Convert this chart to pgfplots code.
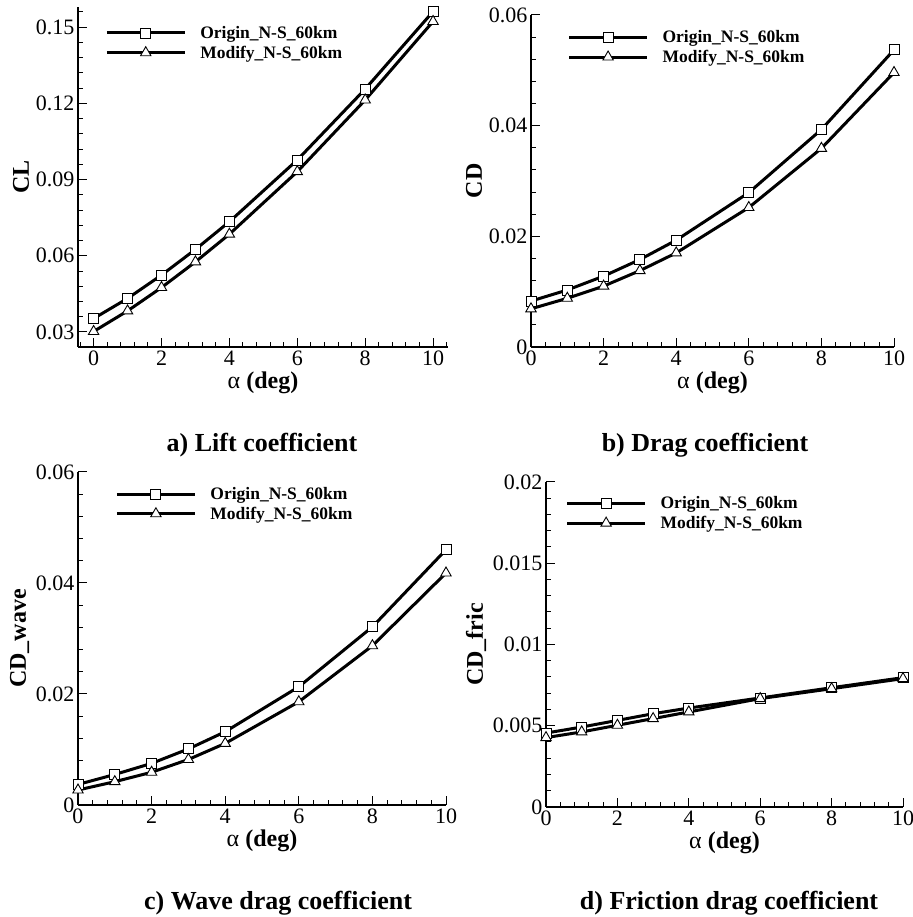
\documentclass[border=0pt]{standalone}
\usepackage{fontspec}
\setmainfont{Liberation Serif}
\usepackage{pgfplots}
\pgfplotsset{compat=1.18}

\pgfplotsset{
  panel/.style={
    scale only axis,
    axis lines=left,
    axis line style={-, line width=1.3pt},
    tick align=inside,
    major tick length=9pt,
    minor tick length=5pt,
    tick style={black, line width=1pt},
    clip=false,
    scaled y ticks=false,
    xtick={0,2,...,10},
    /pgf/number format/assume math mode=true,
    ticklabel style={font=\fontsize{22}{25}\selectfont},
    xlabel={{\mdseries α} (deg)},
    label style={font=\bfseries\fontsize{24}{28}\selectfont},
    legend cell align=left,
    legend style={draw=none, fill=none, anchor=north west,
      font=\bfseries\fontsize{17.5}{20}\selectfont, row sep=2pt},
    legend image code/.code={
      \draw[mark=none, line width=3pt] (0pt,0pt) -- (78pt,0pt);
      \draw plot coordinates {(39pt,0pt)};
      \path (90pt,0pt);},
  },
  orig/.style={black, line width=3pt, mark=square*,
    mark options={fill=white, line width=0.9pt, mark size=5pt}},
  modi/.style={black, line width=3pt, mark=triangle*,
    mark options={fill=white, line width=0.9pt, mark size=6pt}},
}

\begin{document}
\begin{tikzpicture}
\path[use as bounding box] (0pt,0pt) rectangle (912pt,917pt);

% a) lift
\begin{axis}[panel, at={(78pt,570pt)}, anchor=south west, width=370pt, height=340pt,
  xmin=-0.46, xmax=10.44, ymin=0.0241, ymax=0.1579,
  minor xtick={-0.4,0,...,10.4},
  ytick={0.03,0.06,0.09,0.12,0.15},
  yticklabels={0.03,0.06,0.09,0.12,0.15},
  minor ytick={0.024,0.03,...,0.157},
  ylabel={CL},
  legend style={at={(axis description cs:0.065,0.956)}}]
\addplot[orig] coordinates {(0,0.0353)(1,0.0432)(2,0.0524)(3,0.0625)(4,0.0734)(6,0.0977)(8,0.1256)(10,0.1561)};
\addplot[modi] coordinates {(0,0.0302)(1,0.0383)(2,0.0475)(3,0.0576)(4,0.0685)(6,0.0931)(8,0.1213)(10,0.1522)};
\legend{Origin\_N-S\_60km, Modify\_N-S\_60km}
\end{axis}

% b) drag
\begin{axis}[panel, at={(531pt,570pt)}, anchor=south west, width=363pt, height=332pt,
  xmin=0, xmax=10, ymin=0, ymax=0.06,
  minor x tick num=4, minor y tick num=4,
  ytick={0,0.02,0.04,0.06},
  yticklabels={0,0.02,0.04,0.06},
  ylabel={CD},
  legend style={at={(axis description cs:0.092,0.966)}}]
\addplot[orig] coordinates {(0,0.0083)(1,0.0103)(2,0.0128)(3,0.0158)(4,0.0193)(6,0.0279)(8,0.0393)(10,0.0537)};
\addplot[modi] coordinates {(0,0.0069)(1,0.0088)(2,0.0110)(3,0.0138)(4,0.0170)(6,0.0252)(8,0.0359)(10,0.0496)};
\legend{Origin\_N-S\_60km, Modify\_N-S\_60km}
\end{axis}

% c) wave drag
\begin{axis}[panel, at={(78pt,112pt)}, anchor=south west, width=368pt, height=333pt,
  xmin=0, xmax=10, ymin=0, ymax=0.06,
  minor x tick num=4, minor y tick num=4,
  ytick={0,0.02,0.04,0.06},
  yticklabels={0,0.02,0.04,0.06},
  ylabel={CD\_wave},
  legend style={at={(axis description cs:0.093,0.967)}}]
\addplot[orig] coordinates {(0,0.0037)(1,0.0055)(2,0.0075)(3,0.0101)(4,0.0132)(6,0.0213)(8,0.0321)(10,0.0460)};
\addplot[modi] coordinates {(0,0.0027)(1,0.0042)(2,0.0059)(3,0.0082)(4,0.0111)(6,0.0186)(8,0.0287)(10,0.0418)};
\legend{Origin\_N-S\_60km, Modify\_N-S\_60km}
\end{axis}

% d) friction drag
\begin{axis}[panel, at={(546pt,110pt)}, anchor=south west, width=357pt, height=325pt,
  xmin=0, xmax=10, ymin=0, ymax=0.02,
  minor x tick num=4, minor y tick num=4,
  ytick={0,0.005,0.01,0.015,0.02},
  yticklabels={0,0.005,0.01,0.015,0.02},
  ylabel={CD\_fric},
  legend style={at={(axis description cs:0.046,0.968)}}]
\addplot[orig] coordinates {(0,0.00455)(1,0.00492)(2,0.00533)(3,0.00574)(4,0.00609)(6,0.00671)(8,0.00734)(10,0.00796)};
\addplot[modi] coordinates {(0,0.00427)(1,0.00462)(2,0.00503)(3,0.00544)(4,0.00585)(6,0.00667)(8,0.00728)(10,0.0079)};
\legend{Origin\_N-S\_60km, Modify\_N-S\_60km}
\end{axis}

\node[anchor=base, font=\bfseries\fontsize{26}{30}\selectfont] at (262pt,465pt) {a) Lift coefficient};
\node[anchor=base, font=\bfseries\fontsize{26}{30}\selectfont] at (705pt,465pt) {b) Drag coefficient};
\node[anchor=base, font=\bfseries\fontsize{26}{30}\selectfont] at (278pt,8pt) {c) Wave drag coefficient};
\node[anchor=base, font=\bfseries\fontsize{26}{30}\selectfont] at (729pt,8pt) {d) Friction drag coefficient};
\end{tikzpicture}
\end{document}
